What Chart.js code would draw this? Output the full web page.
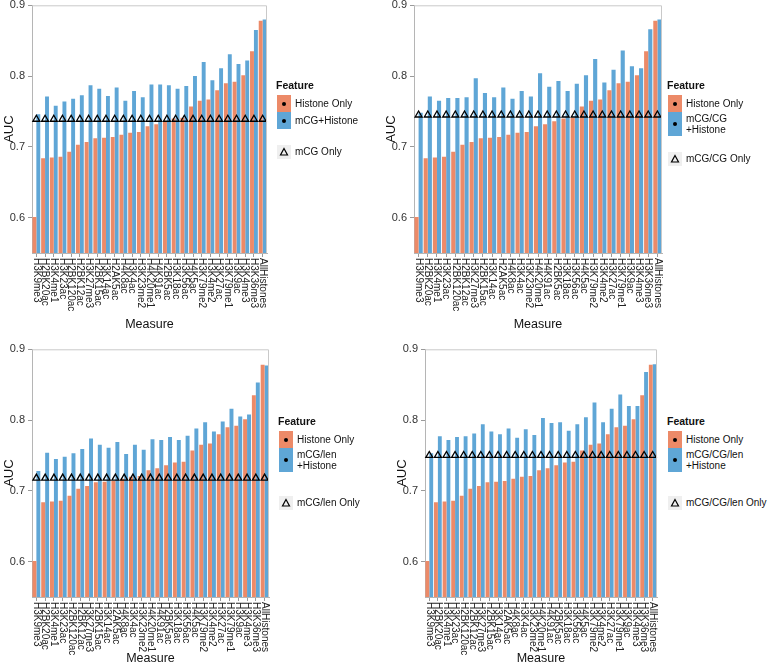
<!DOCTYPE html>
<html>
<head>
<meta charset="utf-8">
<script src="https://cdn.jsdelivr.net/npm/chart.js@4.4.1/dist/chart.umd.min.js"></script>
<style>
  body { margin: 0; background: #fff; }
  #page { position: relative; width: 777px; height: 668px; overflow: hidden; font-family: "Liberation Sans", Arial, sans-serif; }
  canvas { position: absolute; }
  .lg { position: absolute; font-size: 10px; color: #111; line-height: 11px; white-space: nowrap; }
  .lg-title { position: absolute; font-size: 10.5px; font-weight: bold; color: #111; white-space: nowrap; }
  .key { position: absolute; width: 14px; }
  .dot { position: absolute; left: 5px; width: 4px; height: 4px; border-radius: 2px; background: #000; }
</style>
</head>
<body>
<div id="page">
  <canvas id="c1" width="277" height="334" style="left:0px;top:0px"></canvas>
  <canvas id="c2" width="290" height="334" style="left:382px;top:0px"></canvas>
  <canvas id="c3" width="279" height="324" style="left:0px;top:344px"></canvas>
  <canvas id="c4" width="274" height="324" style="left:393px;top:344px"></canvas>
</div>

<script>
// categories, sorted by Histone Only AUC
var measures = ['H3K9me3', 'H2BK20ac', 'H3K4me1', 'H3K23ac', 'H2BK120ac', 'H2BK12ac', 'H3K27me3',
    'H2BK15ac', 'H3K14ac', 'H2AK5ac', 'H4K8ac', 'H3K4ac', 'H3K23me2', 'H4K20me1', 'H4K91ac',
    'H2BK5ac', 'H3K18ac', 'H3K56ac', 'H4K5ac', 'H3K79me2', 'H3K4me2', 'H3K27ac', 'H3K79me1',
    'H3K9ac', 'H3K4me3', 'H3K36me3', 'AllHistones'];

// Histone Only (same in every panel)
var histoneOnly = [0.601, 0.684, 0.685, 0.686, 0.693, 0.703, 0.707, 0.712, 0.713, 0.714, 0.717, 0.720, 0.721,
    0.729, 0.732, 0.736, 0.740, 0.741, 0.757, 0.765, 0.767, 0.780, 0.790, 0.792, 0.801, 0.835, 0.878];

// methylation + histone, one array per panel
var mcgHistone = [0.746, 0.771, 0.758, 0.764, 0.768, 0.773, 0.787, 0.782, 0.772, 0.784, 0.765, 0.779, 0.770,
    0.788, 0.788, 0.787, 0.782, 0.786, 0.800, 0.820, 0.794, 0.811, 0.831, 0.817, 0.822, 0.865, 0.880];
var mcgCgHistone = [0.748, 0.771, 0.765, 0.769, 0.769, 0.770, 0.797, 0.776, 0.770, 0.784, 0.768, 0.779, 0.771,
    0.804, 0.785, 0.793, 0.779, 0.789, 0.801, 0.824, 0.791, 0.809, 0.836, 0.814, 0.811, 0.866, 0.880];
var mcgLenHistone = [0.728, 0.754, 0.745, 0.748, 0.753, 0.759, 0.774, 0.765, 0.761, 0.769, 0.752, 0.765, 0.758,
    0.773, 0.772, 0.776, 0.772, 0.778, 0.788, 0.797, 0.784, 0.798, 0.816, 0.805, 0.808, 0.853, 0.877];
var mcgCgLenHistone = [0.753, 0.777, 0.772, 0.776, 0.777, 0.781, 0.794, 0.784, 0.780, 0.788, 0.775, 0.787, 0.779,
    0.803, 0.796, 0.797, 0.785, 0.794, 0.804, 0.825, 0.797, 0.816, 0.836, 0.820, 0.820, 0.868, 0.879];

// methylation only AUC, one per panel
var mcgOnly = [0.739, 0.745, 0.718, 0.750];

var yTicks = [0.6, 0.7, 0.8, 0.9];
var comboLabels = [['mCG+Histone'], ['mCG/CG', '+Histone'], ['mCG/len', '+Histone'], ['mCG/CG/len', '+Histone']];
var onlyLabels = ['mCG Only', 'mCG/CG Only', 'mCG/len Only', 'mCG/CG/len Only'];

var ORANGE = '#EC8A68';
var BLUE = '#5FA6D6';
var FONT = '"Liberation Sans", Arial, sans-serif';

Chart.defaults.font.family = FONT;

// rotated measure names + panel frame
var panelDecor = {
    id: 'panelDecor',
    afterDraw: function (chart) {
        var ctx = chart.ctx;
        var a = chart.chartArea;
        var x = chart.scales.x;
        ctx.save();
        ctx.strokeStyle = '#c9c9c9';
        ctx.lineWidth = 1;
        ctx.beginPath();
        ctx.moveTo(a.left, a.top + 0.5);
        ctx.lineTo(a.right - 0.5, a.top + 0.5);
        ctx.lineTo(a.right - 0.5, a.bottom);
        ctx.stroke();
        ctx.fillStyle = '#222';
        ctx.font = '10px ' + FONT;
        ctx.textAlign = 'left';
        ctx.textBaseline = 'middle';
        chart.data.labels.forEach(function (lab, i) {
            var px = x.getPixelForTick(i);
            ctx.save();
            ctx.translate(px, a.bottom + 5);
            ctx.rotate(Math.PI / 2);
            ctx.fillText(lab, 0, 0);
            ctx.restore();
        });
        ctx.restore();
    }
};

function makePanel(id, combo, only, xh, padRight) {
    return new Chart(document.getElementById(id), {
        type: 'bar',
        data: {
            labels: measures,
            datasets: [
                {
                    type: 'line',
                    data: measures.map(function () { return only; }),
                    showLine: false,
                    pointStyle: 'triangle',
                    pointRadius: 4,
                    borderColor: '#000',
                    borderWidth: 1.3,
                    backgroundColor: 'rgba(0,0,0,0)',
                    order: 0
                },
                { data: histoneOnly, backgroundColor: ORANGE, order: 1 },
                { data: combo, backgroundColor: BLUE, order: 1 }
            ]
        },
        options: {
            responsive: false,
            animation: false,
            events: [],
            datasets: { bar: { categoryPercentage: 0.9, barPercentage: 1.0 } },
            layout: { padding: { top: 3, right: padRight, left: 0, bottom: 0 } },
            plugins: { legend: { display: false }, tooltip: { enabled: false } },
            scales: {
                x: {
                    afterFit: function (s) { s.height = xh; s.paddingLeft = 0; s.paddingRight = 0; },
                    grid: { drawOnChartArea: false, offset: false, tickLength: 4, color: '#9a9a9a' },
                    border: { display: true, color: '#b5b5b5' },
                    ticks: { display: false },
                    title: { display: true, text: 'Measure', font: { size: 12.5 }, color: '#111', padding: { top: 2, bottom: 2 } }
                },
                y: {
                    min: 0.55,
                    max: 0.9,
                    afterFit: function (s) { s.width = 32; s.paddingTop = 0; s.paddingBottom = 0; },
                    afterBuildTicks: function (s) {
                        s.ticks = yTicks.map(function (v) { return { value: v }; });
                    },
                    grid: { drawOnChartArea: false, tickLength: 4, color: '#9a9a9a' },
                    border: { display: true, color: '#b5b5b5' },
                    ticks: {
                        font: { size: 11 }, color: '#333', padding: 3,
                        callback: function (v) { return v.toFixed(1); }
                    },
                    title: { display: true, text: 'AUC', font: { size: 13 }, color: '#111', padding: { top: 2, bottom: 0 } }
                }
            }
        },
        plugins: [panelDecor]
    });
}

makePanel('c1', mcgHistone, mcgOnly[0], 81, 10);
makePanel('c2', mcgCgHistone, mcgOnly[1], 81, 10);
makePanel('c3', mcgLenHistone, mcgOnly[2], 71, 10);
makePanel('c4', mcgCgLenHistone, mcgOnly[3], 71, 10);

// ggplot style legends (HTML)
function addLegend(i, left, titleY, onlyY) {
    var page = document.getElementById('page');
    var html = '';
    html += '<div class="lg-title" style="left:' + (left - 1) + 'px;top:' + (titleY - 7) + 'px">Feature</div>';
    var k1 = titleY + 9;
    html += '<div class="key" style="left:' + left + 'px;top:' + k1 + 'px;height:17px;background:' + ORANGE + '"><div class="dot" style="top:6.5px"></div></div>';
    html += '<div class="lg" style="left:' + (left + 18) + 'px;top:' + (k1 + 3) + 'px">Histone Only</div>';
    var lines = comboLabels[i];
    var k2 = k1 + 17;
    var kh = lines.length > 1 ? 24 : 17;
    html += '<div class="key" style="left:' + left + 'px;top:' + k2 + 'px;height:' + kh + 'px;background:' + BLUE + '"><div class="dot" style="top:' + (kh / 2 - 2) + 'px"></div></div>';
    html += '<div class="lg" style="left:' + (left + 18) + 'px;top:' + (k2 + (lines.length > 1 ? 1 : 3)) + 'px">' + lines.join('<br>') + '</div>';
    html += '<div class="key" style="left:' + left + 'px;top:' + (onlyY - 7) + 'px;height:14px;background:#efefef">' +
        '<svg width="14" height="14" style="position:absolute;left:0;top:0"><polygon points="7,3.5 10.5,10 3.5,10" fill="none" stroke="#000" stroke-width="1.2"/></svg></div>';
    html += '<div class="lg" style="left:' + (left + 18) + 'px;top:' + (onlyY - 6) + 'px">' + onlyLabels[i] + '</div>';
    page.insertAdjacentHTML('beforeend', html);
}

addLegend(0, 277, 86, 152);
addLegend(1, 668, 86, 159);
addLegend(2, 279, 422, 503);
addLegend(3, 668, 422, 503);
</script>
</body>
</html>
